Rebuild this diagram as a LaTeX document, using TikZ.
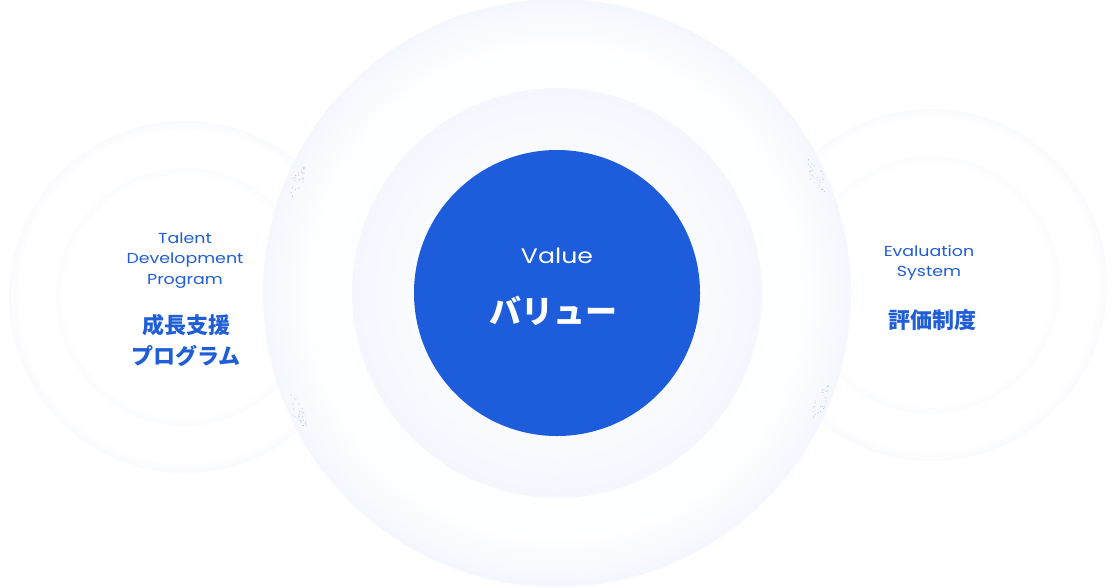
\documentclass[tikz,border=0pt]{standalone}
\usepackage{fontspec}
\newfontfamily\latinfont[FakeStretch=1.2]{Poppins}
\newfontfamily\jpfont{Noto Sans CJK JP}
\definecolor{ringblue}{RGB}{244,247,254}
\definecolor{faintblue}{RGB}{250,251,254}
\definecolor{mainblue}{RGB}{29,92,219}
\definecolor{textblue}{RGB}{32,94,214}
\definecolor{dotcol}{RGB}{180,194,220}
\tikzset{
  entext/.style={font=\latinfont\fontsize{14.5}{16}\selectfont, text=textblue, inner sep=0pt},
  jptext/.style={font=\jpfont\bfseries\fontsize{22}{24}\selectfont, text=textblue, inner sep=0pt},
  dot/.style={fill=dotcol}
}
\begin{document}
\begin{tikzpicture}[x=1pt,y=-1pt]
\useasboundingbox (0,0) rectangle (1113,587);
\fill[white] (0,0) rectangle (1113,587);
% side circles (very faint)
\foreach \cx/\cy in {185/297, 931/285}{
  \foreach \k in {0,...,6}{
    \pgfmathtruncatemacro\r{176-1.5*\k}
    \pgfmathtruncatemacro\p{100-16*\k}
    \fill[faintblue!\p!white] (\cx,\cy) circle[radius=\r];
  }
  \foreach \k in {0,...,6}{
    \pgfmathtruncatemacro\r{129-1.5*\k}
    \pgfmathtruncatemacro\p{80-13*\k}
    \fill[faintblue!\p!white] (\cx,\cy) circle[radius=\r];
  }
}
% outer ring
\foreach \k in {0,...,24}{
  \pgfmathtruncatemacro\r{294-2*\k}
  \pgfmathtruncatemacro\p{100-4*\k}
  \fill[ringblue!\p!white] (557,293) circle[radius=\r];
}
% inner ring
\foreach \k in {0,...,31}{
  \pgfmathtruncatemacro\r{205-2*\k}
  \pgfmathtruncatemacro\p{100-1.6*\k}
  \fill[ringblue!\p!white] (557,293) circle[radius=\r];
}
% dot clusters
\pgfmathsetseed{11}
\foreach \ox/\oy/\ang in {297/183/-65, 298/411/65, 816/176/65, 821/401/-65}{
  \foreach \i in {1,...,30}{
    \pgfmathsetmacro\u{rand*18}
    \pgfmathsetmacro\v{rand*8*(1-abs(\u)/20)}
    \pgfmathsetmacro\dx{\ox+\u*cos(\ang)-\v*sin(\ang)}
    \pgfmathsetmacro\dy{\oy+\u*sin(\ang)+\v*cos(\ang)}
    \fill[dot] (\dx,\dy) circle[radius=0.5];
  }
}
% central circle
\node[circle, fill=mainblue, minimum size=286pt, inner sep=0pt] (core) at (557,293) {};
\node[entext, text=white, font=\latinfont\fontsize{21}{24}\selectfont] (value) at (557,256) {Value};
\node[jptext, text=white, font=\jpfont\bfseries\fontsize{32}{36}\selectfont] (valuejp) at (553,311) {バリュー};
% left texts
\node[entext] (talent) at (185,238) {Talent};
\node[entext] (dev) at (185,260) {Development};
\node[entext] (prog) at (185,281) {Program};
\node[jptext] (seicho) at (186,325) {成長支援};
\node[jptext] (program) at (186,356) {プログラム};
% right texts
\node[entext] (eval) at (929,251) {Evaluation};
\node[entext] (system) at (929,273) {System};
\node[jptext] (hyoka) at (932,320) {評価制度};
\end{tikzpicture}
\end{document}
